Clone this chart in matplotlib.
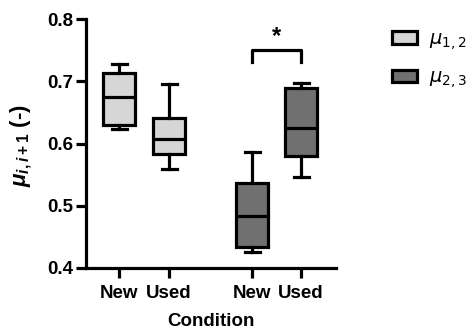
import matplotlib
matplotlib.use("Agg")
import matplotlib.pyplot as plt
from matplotlib.patches import Patch

plt.rcParams['font.family'] = ['Liberation Sans', 'DejaVu Sans']
plt.rcParams['mathtext.fontset'] = 'custom'
plt.rcParams['mathtext.it'] = 'Liberation Sans:italic:bold'
plt.rcParams['mathtext.rm'] = 'Liberation Sans:bold'

# box statistics: New/Used for mu_12 and mu_23
conditions = ["New", "Used", "New", "Used"]
series = ["mu12", "mu12", "mu23", "mu23"]
whis_lo = [0.624, 0.559, 0.425, 0.547]
q1 = [0.630, 0.583, 0.433, 0.580]
median = [0.675, 0.607, 0.484, 0.625]
q3 = [0.714, 0.641, 0.537, 0.690]
whis_hi = [0.728, 0.696, 0.587, 0.697]
positions = [1, 2, 3.66, 4.64]

colors = {"mu12": "#d6d6d6", "mu23": "#707070"}
lw = 2.3

fig = plt.figure(figsize=(4.68, 3.30), dpi=100)
ax = fig.add_axes([0.184, 0.188, 0.534, 0.754])

stats = []
for i in range(len(conditions)):
    stats.append({'whislo': whis_lo[i], 'q1': q1[i], 'med': median[i],
                  'q3': q3[i], 'whishi': whis_hi[i], 'fliers': [],
                  'label': conditions[i]})

bp = ax.bxp(stats, positions=positions, widths=0.64, patch_artist=True,
            showfliers=False,
            boxprops=dict(linewidth=lw, edgecolor='black'),
            medianprops=dict(linewidth=lw, color='black'),
            whiskerprops=dict(linewidth=lw, color='black'),
            capprops=dict(linewidth=lw, color='black'),
            capwidths=0.3)
for box, s in zip(bp['boxes'], series):
    box.set_facecolor(colors[s])

ax.set_xlim(0.34, 5.34)
ax.set_ylim(0.4, 0.8)
ax.set_yticks([0.4, 0.5, 0.6, 0.7, 0.8])
ax.set_xticks(positions)
ax.set_xticklabels(conditions)
for sp in ['top', 'right']:
    ax.spines[sp].set_visible(False)
for sp in ['left', 'bottom']:
    ax.spines[sp].set_linewidth(lw)
ax.tick_params(width=lw, length=7, labelsize=13.5)
ax.tick_params(axis='x', pad=5)
ax.tick_params(axis='y', pad=2)
for lab in ax.get_xticklabels() + ax.get_yticklabels():
    lab.set_fontweight('bold')

ax.set_xlabel("Condition", fontsize=13.5, fontweight='bold', labelpad=8)
ax.set_ylabel(r"$\mu_{i,i+1}$ (-)", fontsize=16, fontweight='bold')
ax.yaxis.set_label_coords(-0.21, 0.49)

# significance bracket between New and Used of mu_23
y_top = 0.751
y_leg = 0.731
ax.plot([positions[2], positions[2], positions[3], positions[3]],
        [y_leg, y_top, y_top, y_leg], color='black', lw=lw, clip_on=False)
ax.text((positions[2] + positions[3]) / 2, y_top + 0.003, "*",
        ha='center', va='bottom', fontsize=17, fontweight='bold')

handles = [Patch(facecolor=colors["mu12"], edgecolor='black', linewidth=lw),
           Patch(facecolor=colors["mu23"], edgecolor='black', linewidth=lw)]
leg = fig.legend(handles, [r"$\mu_{1,2}$", r"$\mu_{2,3}$"], loc='upper left',
                 bbox_to_anchor=(0.8, 0.96), frameon=False, fontsize=14,
                 handlelength=1.3, handleheight=0.6, handletextpad=0.6,
                 labelspacing=0.9)
for t in leg.get_texts():
    t.set_math_fontfamily('dejavusans')

fig.savefig("out.png", dpi=100)
